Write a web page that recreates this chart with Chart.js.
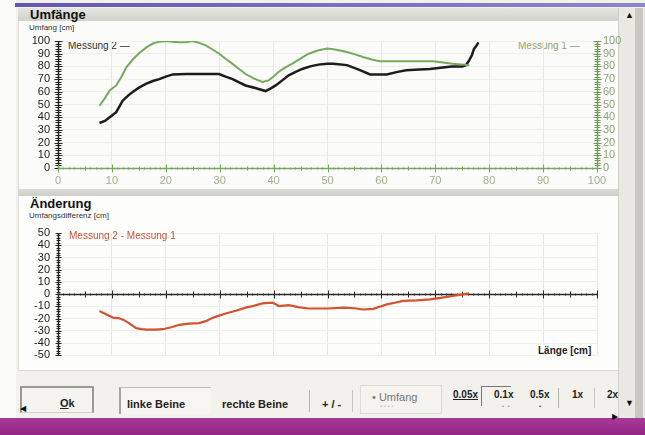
<!DOCTYPE html>
<html><head><meta charset="utf-8">
<script src="https://cdn.jsdelivr.net/npm/chart.js@4"></script>
<style>
body{margin:0;width:645px;height:435px;overflow:hidden;background:#f2f1ec;font-family:"Liberation Sans",Arial,sans-serif;position:relative}
.a{position:absolute;white-space:nowrap}
canvas{position:absolute}
.btxt{font-weight:bold;font-size:11px;color:#222}
</style></head><body>
<!-- window chrome -->
<div class="a" style="left:0;top:0;width:16px;height:418px;background:#fbfbf9"></div>
<div class="a" style="left:15px;top:3px;width:630px;height:4px;background:linear-gradient(90deg,#6357b0,#8b86cf)"></div>
<div class="a" style="left:18px;top:8px;width:600px;height:13px;background:linear-gradient(#e4e4e0,#d2d2cc)"></div>
<div class="a" style="left:18px;top:21px;width:599px;height:168px;background:#fbfbf9;border-left:1px solid #e2e2dc"></div>
<div class="a" style="left:18px;top:189px;width:600px;height:7px;background:linear-gradient(#dcdcd6,#cfcfc9)"></div>
<div class="a" style="left:18px;top:196px;width:599px;height:174px;background:#fdfdfb;border-left:1px solid #e2e2dc;border-bottom:1px solid #d8d8d2"></div>
<div class="a" style="left:618px;top:8px;width:27px;height:410px;background:#e9e8e2;border-left:1px solid #cfcfc8"></div>
<div class="a" style="left:635px;top:8px;width:8px;height:410px;background:#c8c8c1"></div>
<div class="a" style="left:625px;top:10px;font-size:9px;color:#111">&#9650;</div>
<div class="a" style="left:625px;top:398px;font-size:9px;color:#111">&#9660;</div>
<div class="a" style="left:0;top:418px;width:645px;height:17px;background:linear-gradient(#a8399a,#932784)"></div>

<!-- texts -->
<div class="a" style="left:30px;top:7px;font-weight:bold;font-size:13px;color:#111">Umfänge</div>
<div class="a" style="left:29px;top:23px;font-size:8px;color:#333">Umfang [cm]</div>
<div class="a" style="left:68px;top:40px;font-size:10px;color:#333">Messung 2 —</div>
<div class="a" style="left:518px;top:40px;font-size:10px;color:#8ba57a">Messung 1 —</div>
<div class="a" style="left:30px;top:196px;font-weight:bold;font-size:13px;color:#111">Änderung</div>
<div class="a" style="left:29px;top:211px;font-size:8px;color:#333">Umfangsdifferenz [cm]</div>

<!-- toolbar -->
<div class="a" style="left:20px;top:386px;width:70px;height:24px;border:2px solid #9a9a94;border-bottom:1px solid #d0d0ca;background:#f4f3ee"></div>
<div class="a btxt" style="left:60px;top:397px"><u>O</u>k</div>
<div class="a" style="left:119px;top:387px;width:90px;height:26px;border-left:2px solid #a5a59f;border-top:1px solid #bdbdb7;background:#f6f5f0"></div>
<div class="a btxt" style="left:127px;top:398px">linke Beine</div>
<div class="a btxt" style="left:222px;top:398px">rechte Beine</div>
<div class="a" style="left:309px;top:390px;width:1px;height:22px;background:#b4b4ae"></div>
<div class="a btxt" style="left:322px;top:398px">+ / -</div>
<div class="a" style="left:352px;top:390px;width:1px;height:22px;background:#c4c4be"></div>
<div class="a" style="left:360px;top:385px;width:80px;height:27px;border:1px solid #dcdcd6;background:#f4f3ee"></div>
<div class="a" style="left:372px;top:391px;font-size:11px;color:#777">• Umfang</div>
<div class="a" style="left:380px;top:403px;font-size:6px;color:#bbb">• • • •</div>
<div class="a btxt" style="left:453px;top:389px;font-size:10px"><u>0.05x</u></div>
<div class="a" style="left:481px;top:386px;width:1px;height:20px;background:#777"></div>
<div class="a" style="left:481px;top:386px;width:30px;height:1px;background:#777"></div>
<div class="a btxt" style="left:494px;top:389px;font-size:10px">0.1x</div>
<div class="a btxt" style="left:530px;top:389px;font-size:10px">0.5x</div>
<div class="a" style="left:502px;top:403px;font-size:6px;color:#999">•&nbsp;&nbsp;•</div>
<div class="a" style="left:539px;top:403px;font-size:6px;color:#333">•</div>
<div class="a" style="left:558px;top:388px;width:1px;height:20px;background:#b4b4ae"></div>
<div class="a btxt" style="left:572px;top:389px;font-size:10px">1x</div>
<div class="a" style="left:594px;top:388px;width:1px;height:20px;background:#c4c4be"></div>
<div class="a btxt" style="left:607px;top:389px;font-size:10px">2x</div>
<div class="a" style="left:20px;top:404px;font-size:8px;color:#111">&#9664;</div>
<div class="a" style="left:612px;top:412px;font-size:8px;color:#111">&#9654;</div>

<canvas id="c1" width="610" height="172" style="left:20px;top:20px"></canvas>
<canvas id="c2" width="610" height="157" style="left:20px;top:213px"></canvas>

<div class="a" style="left:69px;top:230px;font-size:10px;color:#c4553d;z-index:2">Messung 2 - Messung 1</div>
<div class="a" style="left:537px;top:345px;font-weight:bold;font-size:10px;color:#222;background:#fdfdfb;padding:0 1px;z-index:2">Länge [cm]</div>

<script>
// Umfänge – Messung 2 (green)
const m2X = [7.7, 8.7, 9.6, 10.8, 11.8, 12.7, 14, 15.2, 16.4, 17.6, 18.8, 20, 21.3, 22.5, 23.8, 24.9, 26.2, 27.4, 28.6, 29.9, 31.1, 32.4, 33.6, 34.8, 36.3, 37.9, 39.1, 40, 40.9, 42.1, 43.4, 44.9, 46.5, 48.2, 49.9, 51.1, 52.3, 53.6, 55.1, 56.6, 58.2, 59.7, 62.8, 65.9, 69.6, 71.4, 73.2, 74.8, 76.3];
const m2Y = [49, 55, 61, 65, 72, 79.5, 86, 91, 95, 98, 99.5, 100, 99.5, 99, 99, 100, 98.5, 96.6, 93.5, 90, 86, 82, 78, 74, 70.5, 67.7, 69, 72, 75.6, 79, 82, 86, 90, 92.5, 94, 93.5, 92.5, 91.3, 89.5, 87.4, 85.5, 84, 84, 84, 84, 83, 82, 81.5, 81];
// Umfänge – Messung 1 (black)
const m1X = [7.7, 8.7, 9.6, 10.8, 12, 13, 13.9, 15.1, 16.4, 17.6, 18.8, 20, 21.3, 23.8, 26, 28, 29.9, 31.1, 32.4, 33.6, 34.8, 36.6, 38.5, 39.4, 40.4, 41.6, 42.8, 44, 45.3, 46.8, 48.3, 49.9, 51.1, 53.6, 55.8, 57.9, 61, 62.8, 64.6, 67, 69, 71, 73, 75, 75.7, 76.3, 76.8, 77.2, 77.6, 78];
const m1Y = [35.4, 37, 40, 44, 53, 57, 60, 63.5, 66.5, 68.5, 70, 72, 73.7, 74, 74, 74, 74, 72, 70, 67.5, 65, 63, 60.6, 62.5, 65, 69, 73, 75.5, 78, 80, 81.4, 82, 82, 81, 77.5, 73.7, 73.7, 75.5, 77, 77.5, 78, 79, 80, 80, 81, 85, 89, 94, 96, 99];
// Änderung – Messung 2 - Messung 1 (red)
const dX = [7.7, 9, 10.3, 11.2, 12.1, 13.3, 14.5, 15.5, 16.4, 18, 19.5, 21, 22.5, 24.3, 26.2, 27.4, 28.6, 29.9, 31.1, 33, 34.8, 36.3, 37.9, 39.8, 41, 42.8, 44.6, 46.5, 49.9, 53, 55, 56.6, 58.5, 59.8, 61, 62.5, 64, 66.5, 69, 71, 73.2, 74.8, 76.3];
const dY = [-13.8, -16.5, -19.4, -19.5, -20.8, -24, -27.7, -28.5, -29, -29, -28.6, -27, -25, -24, -23.6, -22, -19.4, -17.5, -15.8, -13.5, -11, -9.5, -7.5, -6.9, -9.7, -8.9, -10.5, -11.7, -11.7, -11, -11.5, -12.5, -12, -10, -8.3, -7, -5.5, -5, -4.2, -3, -1.4, -0.3, 0.8];
// axis ranges / tick labels
const xRange = [0, 100];
const topYRange = [0, 100];
const diffYRange = [-50, 50];

const pts = (xs, ys) => xs.map((x, i) => ({x, y: ys[i]}));

const crossAxes = {
  id: 'crossAxes',
  beforeDatasetsDraw(chart, args, opts) {
    const ctx = chart.ctx; ctx.save();
    const isMult = (v, m) => m && Math.abs(v / m - Math.round(v / m)) < 1e-6;
    for (const it of opts.items) {
      const s = chart.scales[it.scale];
      let pos;
      if (it.atScale) pos = Math.round(chart.scales[it.atScale].getPixelForValue(it.atValue)) + 0.5;
      else pos = Math.round(it.edge === 'left' ? chart.chartArea.left : chart.chartArea.right) + 0.5;
      const a = s.getPixelForValue(it.from), b = s.getPixelForValue(it.to);
      ctx.strokeStyle = it.color; ctx.lineWidth = it.width || 1;
      ctx.beginPath();
      if (it.dir === 'h') { ctx.moveTo(a, pos); ctx.lineTo(b, pos); } else { ctx.moveTo(pos, a); ctx.lineTo(pos, b); }
      ctx.stroke();
      ctx.lineWidth = 1; ctx.beginPath();
      const n = Math.round((it.to - it.from) / it.step);
      for (let k = 0; k <= n; k++) {
        const v = Math.round((it.from + k * it.step) * 1000) / 1000;
        let L = it.len[0];
        if (isMult(v, it.mid)) L = it.len[1];
        if (isMult(v, it.major)) L = it.len[2];
        const p = Math.round(s.getPixelForValue(v)) + 0.5;
        if (it.dir === 'h') { ctx.moveTo(p, pos - L); ctx.lineTo(p, pos + L); }
        else { ctx.moveTo(pos - L, p); ctx.lineTo(pos + L, p); }
      }
      ctx.stroke();
    }
    ctx.restore();
  }
};

const font = {family: '"Liberation Sans", Arial, sans-serif', size: 11};

new Chart(document.getElementById('c1'), {
  type: 'line',
  data: {datasets: [
    {label: 'Messung 2', data: pts(m2X, m2Y), borderColor: '#74aa5c', borderWidth: 2, pointRadius: 0, tension: 0},
    {label: 'Messung 1', data: pts(m1X, m1Y), borderColor: '#1c1c1c', borderWidth: 2.5, pointRadius: 0, tension: 0}
  ]},
  options: {
    responsive: false, animation: false,
    layout: {padding: {top: 21, left: 0, right: 0, bottom: 0}},
    plugins: {legend: {display: false}, tooltip: {enabled: false},
      crossAxes: {items: [
        {dir: 'v', scale: 'y', edge: 'left', from: topYRange[0], to: topYRange[1], step: 2, major: 10, len: [3, 3, 4], color: '#222', width: 1.5},
        {dir: 'v', scale: 'y2', edge: 'right', from: topYRange[0], to: topYRange[1], step: 2, major: 10, len: [3, 3, 4], color: '#6f9d58', width: 1.5},
        {dir: 'h', scale: 'x', atScale: 'y', atValue: 0, from: xRange[0], to: xRange[1], step: 1, mid: 5, major: 10, len: [1, 2, 4], color: '#76a65e', width: 1.5}
      ]}
    },
    scales: {
      x: {type: 'linear', min: xRange[0], max: xRange[1],
        ticks: {stepSize: 10, color: '#9fb090', font, padding: 6, autoSkip: false},
        grid: {color: '#e8e8e4', drawTicks: false}, border: {display: false},
        afterFit(s) { s.height = 24; }},
      y: {min: topYRange[0], max: topYRange[1],
        ticks: {stepSize: 10, color: '#222', font, padding: 8, autoSkip: false},
        grid: {color: '#efefeb', drawTicks: false}, border: {display: false},
        afterFit(s) { s.width = 38; }},
      y2: {position: 'right', min: topYRange[0], max: topYRange[1],
        ticks: {stepSize: 10, color: '#8ea27c', font, padding: 6, autoSkip: false},
        grid: {display: false, drawTicks: false}, border: {display: false},
        afterFit(s) { s.width = 33; }}
    }
  },
  plugins: [crossAxes]
});

new Chart(document.getElementById('c2'), {
  type: 'line',
  data: {datasets: [
    {label: 'Messung 2 - Messung 1', data: pts(dX, dY), borderColor: '#d4532f', borderWidth: 2.2, pointRadius: 0, tension: 0}
  ]},
  options: {
    responsive: false, animation: false,
    layout: {padding: {top: 20, left: 0, right: 33, bottom: 0}},
    plugins: {legend: {display: false}, tooltip: {enabled: false},
      crossAxes: {items: [
        {dir: 'v', scale: 'y', edge: 'left', from: diffYRange[0], to: diffYRange[1], step: 2, major: 10, len: [2, 2, 3], color: '#222', width: 1.5},
        {dir: 'h', scale: 'x', atScale: 'y', atValue: 0, from: xRange[0], to: xRange[1], step: 1, mid: 5, major: 10, len: [1, 3, 4], color: '#2a2a2a', width: 1.3}
      ]}
    },
    scales: {
      x: {type: 'linear', min: xRange[0], max: xRange[1],
        ticks: {stepSize: 10, display: false},
        grid: {color: '#e6e6e2', drawTicks: false}, border: {display: false},
        afterFit(s) { s.height = 13; }},
      y: {min: diffYRange[0], max: diffYRange[1],
        ticks: {stepSize: 10, color: '#222', font, padding: 8, autoSkip: false},
        grid: {color: '#efefeb', drawTicks: false}, border: {display: false},
        afterFit(s) { s.width = 38; }}
    }
  },
  plugins: [crossAxes]
});
</script>
</body></html>
